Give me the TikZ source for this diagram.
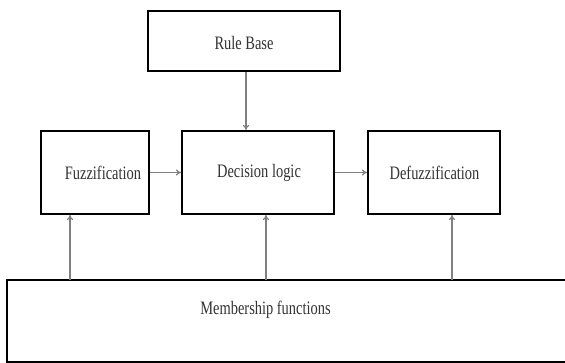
\documentclass[tikz,border=0pt]{standalone}
\usepackage{fontspec}
\setmainfont{Liberation Serif}
\newfontfamily\condfont[FakeStretch=0.76]{Liberation Serif}
\usetikzlibrary{arrows.meta}
\begin{document}
\begin{tikzpicture}[x=1pt,y=-1pt,
  boxstyle/.style={draw=black,line width=2pt,fill=white,inner sep=0pt},
  txt/.style={font=\condfont\fontsize{19}{22}\selectfont,text=black!80,inner sep=0pt},
  conn/.style={draw=black!50,line width=1.2pt,-{To[length=5pt,width=6pt]}}]
\useasboundingbox (0,0) rectangle (565,363);
\clip (0,0) rectangle (565,363);
\fill[white] (0,0) rectangle (565,363);
% boxes
\node[boxstyle,minimum width=192pt,minimum height=60pt] (rule) at (244,41) {};
\node[boxstyle,minimum width=108pt,minimum height=83pt] (fuzz) at (95,172.5) {};
\node[boxstyle,minimum width=152pt,minimum height=83pt] (dec) at (258,172.5) {};
\node[boxstyle,minimum width=132pt,minimum height=83pt] (defuzz) at (434,172.5) {};
\draw[line width=2pt] (7,280) rectangle (575,361.5);
% texts
\node[txt] (rulet) at (244,43) {Rule Base};
\node[txt] (fuzzt) at (103,173) {Fuzzification};
\node[txt] (dect) at (259,173) {Decision logic};
\node[txt] (defuzzt) at (434.5,173) {Defuzzification};
\node[txt] (memt) at (265.5,310) {Membership functions};
% connectors
\coordinate (m1) at (70,280);
\coordinate (m2) at (266,280);
\coordinate (m3) at (452,280);
\draw[conn] (rule.south -| 246,0) -- (dec.north -| 246,0);
\draw[conn] (fuzz.east) -- (dec.west);
\draw[conn] (dec.east) -- (defuzz.west);
\draw[conn] (m1) -- (fuzz.south -| m1);
\draw[conn] (m2) -- (dec.south -| m2);
\draw[conn] (m3) -- (defuzz.south -| m3);
\end{tikzpicture}
\end{document}
